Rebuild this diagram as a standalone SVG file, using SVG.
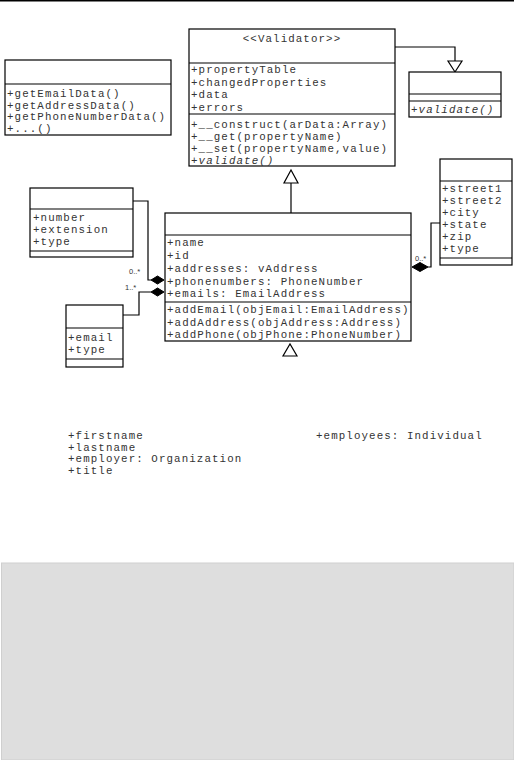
<svg xmlns="http://www.w3.org/2000/svg" width="514" height="760" viewBox="0 0 514 760">
<style>
.box{fill:#fff;stroke:#000;stroke-width:1.2}
.ln{fill:none;stroke:#000;stroke-width:1.2}
.t{font-family:"Liberation Mono",monospace;font-size:10.8px;letter-spacing:1.1px;fill:#333}
.i{font-style:italic}
.m{font-family:"Liberation Sans",sans-serif;font-size:7.5px;fill:#333}
.tri{fill:#fff;stroke:#000;stroke-width:1.2}
.dia{fill:#000;stroke:#000;stroke-width:1}
</style>
<rect x="0" y="0" width="514" height="760" fill="#fff"/>
<line x1="0" y1="0.8" x2="514" y2="0.8" stroke="#000" stroke-width="1.6"/>
<rect x="1.5" y="563" width="512.5" height="197" fill="#dedede" stroke="#cfcfcf" stroke-width="1"/>

<g id="connectors">
  <polyline class="ln" points="395,47 455,47 455,61"/>
  <polygon class="tri" points="448,61 462,61 455,72"/>
  <line class="ln" x1="291" y1="213" x2="291" y2="183"/>
  <polygon class="tri" points="284,183 298,183 291,170"/>
  <polyline class="ln" points="133,201 148,201 148,280 151,280"/>
  <polygon class="dia" points="151,280 157.5,276 164,280 157.5,284"/>
  <text class="m" x="129" y="274">0..*</text>
  <polyline class="ln" points="123,315 139,315 139,292 151,292"/>
  <polygon class="dia" points="151,292 157.5,288 164,292 157.5,296"/>
  <text class="m" x="125" y="290">1..*</text>
  <polyline class="ln" points="440,223 431,223 431,267 428,267"/>
  <polygon class="dia" points="412,267 420,262.5 428,267 420,271.5"/>
  <text class="m" x="415" y="261">0..*</text>
  <polygon class="tri" points="283,356 297,356 290,344"/>
</g>

<g id="validator">
  <rect class="box" x="189" y="29" width="206" height="137"/>
  <line class="ln" x1="189" y1="63" x2="395" y2="63"/>
  <line class="ln" x1="189" y1="114" x2="395" y2="114"/>
  <text class="t" x="292" y="42" text-anchor="middle">&lt;&lt;Validator&gt;&gt;</text>
  <text class="t" x="191" y="73">+propertyTable</text>
  <text class="t" x="191" y="86">+changedProperties</text>
  <text class="t" x="191" y="98">+data</text>
  <text class="t" x="191" y="111">+errors</text>
  <text class="t" x="191" y="128">+__construct(arData:Array)</text>
  <text class="t" x="191" y="140">+__get(propertyName)</text>
  <text class="t" x="191" y="152">+__set(propertyName,value)</text>
  <text class="t i" x="191" y="164">+validate()</text>
</g>

<g id="dataInterface">
  <rect class="box" x="5" y="60" width="166" height="75"/>
  <line class="ln" x1="5" y1="84" x2="171" y2="84"/>
  <text class="t" x="7" y="97">+getEmailData()</text>
  <text class="t" x="7" y="108.5">+getAddressData()</text>
  <text class="t" x="7" y="120">+getPhoneNumberData()</text>
  <text class="t" x="7" y="131.5">+...()</text>
</g>

<g id="validatable">
  <rect class="box" x="409" y="72" width="92" height="45"/>
  <line class="ln" x1="409" y1="94" x2="501" y2="94"/>
  <line class="ln" x1="409" y1="101" x2="501" y2="101"/>
  <text class="t i" x="411" y="113">+validate()</text>
</g>

<g id="phoneNumber">
  <rect class="box" x="30" y="188" width="103" height="69"/>
  <line class="ln" x1="30" y1="209" x2="133" y2="209"/>
  <line class="ln" x1="30" y1="251" x2="133" y2="251"/>
  <text class="t" x="33" y="221">+number</text>
  <text class="t" x="33" y="233">+extension</text>
  <text class="t" x="33" y="245">+type</text>
</g>

<g id="address">
  <rect class="box" x="440" y="159" width="72" height="106"/>
  <line class="ln" x1="440" y1="181" x2="512" y2="181"/>
  <line class="ln" x1="440" y1="258" x2="512" y2="258"/>
  <text class="t" x="442" y="192">+street1</text>
  <text class="t" x="442" y="204">+street2</text>
  <text class="t" x="442" y="216">+city</text>
  <text class="t" x="442" y="228">+state</text>
  <text class="t" x="442" y="240">+zip</text>
  <text class="t" x="442" y="252">+type</text>
</g>

<g id="emailAddress">
  <rect class="box" x="66" y="305" width="57" height="62"/>
  <line class="ln" x1="66" y1="328" x2="123" y2="328"/>
  <line class="ln" x1="66" y1="359" x2="123" y2="359"/>
  <text class="t" x="68" y="341">+email</text>
  <text class="t" x="68" y="353">+type</text>
</g>

<g id="party">
  <rect class="box" x="165" y="213" width="246" height="128"/>
  <line class="ln" x1="165" y1="235" x2="411" y2="235"/>
  <line class="ln" x1="165" y1="302" x2="411" y2="302"/>
  <text class="t" x="167" y="246">+name</text>
  <text class="t" x="167" y="259">+id</text>
  <text class="t" x="167" y="272">+addresses: vAddress</text>
  <text class="t" x="167" y="285">+phonenumbers: PhoneNumber</text>
  <text class="t" x="167" y="297">+emails: EmailAddress</text>
  <text class="t" x="167" y="313">+addEmail(objEmail:EmailAddress)</text>
  <text class="t" x="167" y="326">+addAddress(objAddress:Address)</text>
  <text class="t" x="167" y="338">+addPhone(objPhone:PhoneNumber)</text>
</g>

<g id="individual">
  <text class="t" x="68" y="439">+firstname</text>
  <text class="t" x="68" y="450.5">+lastname</text>
  <text class="t" x="68" y="462">+employer: Organization</text>
  <text class="t" x="68" y="473.5">+title</text>
</g>

<g id="organization">
  <text class="t" x="316" y="439">+employees: Individual</text>
</g>
</svg>
